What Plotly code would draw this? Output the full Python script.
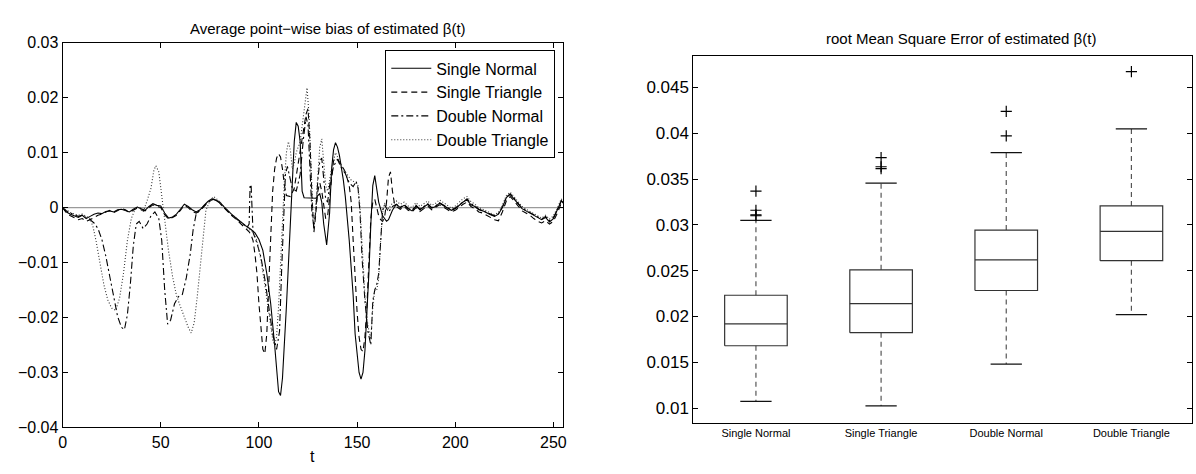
import plotly.graph_objects as go

# ---------------- Left panel: average point-wise bias ----------------
sn_t = [0,2,4,6,8,10,12,14,16,18,20,22,24,26,28,30,32,34,36,38,40,42,44,46,48,50,52,54,56,58,60,62,64,66,68,70,72,74,76,78,80,82,84,86,88,90,92,94,96,98,100,102,104,106,108,110,111,112,114,116,117,118,119,120,121,122,123,126,129,130,131,132,133,134.5,136,137,138,139,140,141,142,143,144,145,146,147,148,149,150,151,152,153,154,155,156,157,158,159,160,161,163,165,166,168,170,172,174,176,178,180,182,184,186,188,190,192,194,196,198,200,202,204,206,208,210,212,214,216,218,220,222,224,226,228,230,232,234,236,238,240,242,244,246,248,250,252,254,255]
sn_v = [0.0,-0.0008,-0.0012,-0.0015,-0.0018,-0.0014,-0.0020,-0.0016,-0.0012,-0.0010,-0.0011,-0.0007,-0.0006,-0.0008,-0.0004,-0.0003,-0.0006,-0.0008,-0.0003,0.0001,-0.0002,-0.0005,0.0002,0.0007,0.0004,0.0003,-0.0010,-0.0019,-0.0017,-0.0012,-0.0003,0.0006,0.0002,-0.0004,-0.0008,-0.0004,0.0004,0.0011,0.0016,0.0013,0.0010,0.0002,-0.0006,-0.0012,-0.0018,-0.0024,-0.0030,-0.0035,-0.0040,-0.0046,-0.0058,-0.0078,-0.0120,-0.0175,-0.0250,-0.0335,-0.0342,-0.0310,-0.0180,-0.0040,0.0030,0.0120,0.0155,0.0148,0.0120,0.0030,0.0018,0.0017,0.0017,0.0022,0.0025,0.0010,-0.0030,-0.0068,-0.0010,0.0070,0.0105,0.0118,0.0110,0.0095,0.0075,0.0050,0.0020,-0.0015,-0.0060,-0.0110,-0.0160,-0.0230,-0.0270,-0.0300,-0.0312,-0.0300,-0.0260,-0.0200,-0.0120,-0.0030,0.0040,0.0058,0.0035,0.0010,-0.0015,-0.0025,-0.0022,-0.0005,0.0006,0.0000,0.0004,-0.0002,-0.0006,0.0003,-0.0004,0.0001,0.0006,-0.0001,0.0002,0.0008,0.0004,0.0000,-0.0005,-0.0002,0.0004,0.0010,0.0014,0.0005,0.0002,-0.0004,-0.0006,-0.0010,-0.0013,-0.0016,-0.0012,0.0000,0.0018,0.0024,0.0015,0.0008,-0.0002,-0.0006,-0.0010,-0.0015,-0.0019,-0.0022,-0.0018,-0.0026,-0.0020,-0.0005,0.0012,0.0008]

st_t = [0,2,4,6,8,10,12,14,16,18,20,22,24,26,28,30,32,34,36,38,40,42,44,46,48,50,52,54,56,58,60,62,64,66,68,70,72,74,76,78,80,82,84,86,88,90,92,94,95,96,97,98,99,100,101,102,103,104,105,106,107,108,109,110,111,112,113,114,116,118,120,122,124,125,126,127,128,129,130,131,132,133,134,135,136,137,138,139,140,142,144,146,147,148,149,150,151,152,153,154,155,156,157,158,159,160,161,162,163,164,165,166,167,168,169,170,172,174,176,178,180,182,184,186,188,190,192,194,196,198,200,202,204,206,208,210,212,214,216,218,220,222,224,226,228,230,232,234,236,238,240,242,244,246,248,250,252,254,255]
st_v = [0.0,-0.0010,-0.0015,-0.0018,-0.0022,-0.0020,-0.0025,-0.0022,-0.0018,-0.0014,-0.0012,-0.0009,-0.0005,-0.0009,-0.0006,-0.0002,-0.0004,-0.0009,-0.0005,-0.0001,-0.0004,-0.0006,0.0000,0.0005,0.0002,0.0000,-0.0013,-0.0021,-0.0018,-0.0014,-0.0005,0.0004,0.0000,-0.0007,-0.0010,-0.0006,0.0002,0.0009,0.0014,0.0016,0.0008,0.0000,-0.0008,-0.0014,-0.0020,-0.0027,-0.0033,-0.0040,-0.0044,-0.0050,-0.0060,-0.0085,-0.0120,-0.0175,-0.0225,-0.0258,-0.0266,-0.0230,-0.0140,-0.0040,0.0030,0.0070,0.0090,0.0098,0.0092,0.0070,0.0040,0.0022,0.0020,0.0035,0.0080,0.0120,0.0170,0.0180,0.0120,0.0020,-0.0045,-0.0010,0.0030,0.0045,0.0030,0.0005,-0.0020,-0.0015,0.0020,0.0060,0.0085,0.0090,0.0088,0.0078,0.0065,0.0040,0.0010,-0.0060,-0.0130,-0.0190,-0.0235,-0.0258,-0.0262,-0.0235,-0.0180,-0.0100,-0.0020,0.0010,0.0015,0.0000,-0.0015,-0.0022,-0.0025,-0.0018,0.0010,0.0055,0.0065,0.0030,0.0008,0.0002,-0.0003,0.0002,-0.0005,-0.0008,0.0000,-0.0007,-0.0002,0.0003,-0.0004,0.0000,0.0005,0.0001,-0.0003,-0.0008,-0.0005,0.0001,0.0006,0.0010,0.0002,-0.0002,-0.0008,-0.0010,-0.0014,-0.0018,-0.0022,-0.0024,-0.0008,0.0012,0.0020,0.0012,0.0004,-0.0006,-0.0010,-0.0014,-0.0020,-0.0025,-0.0028,-0.0024,-0.0030,-0.0025,-0.0010,0.0008,0.0005]

dn_t = [0,2,4,6,8,10,12,14,16,18,20,22,24,26,28,30,31.5,33,34.5,36,37.5,39,41,43,45,47,49,50.5,52,53.5,55,57,59,61,63,65,66.5,68,70,72,74,76,78,80,82,84,86,88,90,92,94,95,95.5,96,96.5,97,99,101,103,105,107,109,110.5,111.5,112.5,113.5,114.5,115.5,117,119,121,122.5,124,125,126,127,128,129,130,131,132,133,134,135,136,138,140,142,144,146,148,149.5,150.5,151.5,152.5,154,155.5,157,158,159,160,161,162,163,164,166,168,170,172,174,176,178,180,182,184,186,188,190,192,194,196,198,200,202,204,206,208,210,212,214,216,218,220,222,224,226,228,230,232,234,236,238,240,242,244,246,248,250,252,254,255]
dn_v = [0.0,-0.0006,-0.0010,-0.0013,-0.0016,-0.0014,-0.0018,-0.0022,-0.0028,-0.0038,-0.0058,-0.0088,-0.0125,-0.0165,-0.0198,-0.0218,-0.0222,-0.0195,-0.0140,-0.0070,-0.0030,-0.0025,-0.0038,-0.0030,-0.0015,-0.0008,-0.0020,-0.0060,-0.0150,-0.0212,-0.0205,-0.0175,-0.0162,-0.0158,-0.0128,-0.0085,-0.0040,-0.0012,-0.0004,0.0003,0.0010,0.0016,0.0014,0.0008,0.0001,-0.0007,-0.0013,-0.0019,-0.0025,-0.0030,-0.0036,-0.0030,0.0040,0.0042,-0.0010,-0.0045,-0.0065,-0.0090,-0.0130,-0.0180,-0.0230,-0.0258,-0.0225,-0.0120,-0.0010,0.0060,0.0075,0.0060,0.0035,0.0030,0.0060,0.0120,0.0165,0.0150,0.0060,-0.0010,-0.0035,-0.0005,0.0050,0.0085,0.0090,0.0045,0.0015,0.0010,0.0040,0.0075,0.0088,0.0072,0.0062,0.0045,0.0038,0.0048,0.0035,-0.0010,-0.0090,-0.0170,-0.0225,-0.0250,-0.0170,-0.0150,-0.0140,-0.0120,-0.0050,-0.0005,0.0005,-0.0008,0.0002,0.0006,0.0001,0.0005,-0.0001,-0.0005,0.0004,-0.0003,0.0002,0.0007,0.0000,0.0003,0.0009,0.0005,0.0001,-0.0004,-0.0001,0.0005,0.0011,0.0016,0.0007,0.0003,-0.0003,-0.0005,-0.0009,-0.0012,-0.0015,-0.0011,0.0001,0.0019,0.0025,0.0017,0.0009,-0.0001,-0.0005,-0.0009,-0.0014,-0.0018,-0.0021,-0.0016,-0.0024,-0.0018,-0.0004,0.0013,0.0009]

dt_t = [0,2,4,6,8,10,12,14,15.5,17,19,21,23,25,27,29,31,33,35,37,39,41,43,45,46.5,47.5,49,50.5,52,54,56,58,60,62,64,65.5,67,68.5,70,71.5,73,75,77,79,81,83,85,87,89,91,93,95,97,99,101,103,105,107,108,109,110,111,112,113,114,115,116,117,118,119,121,123,124.5,125.5,126.5,127.5,128.5,129.5,131,132,133,134,135,137,139,141,143,145,147,149,150.5,151.5,152.5,154,155.5,157,158,159,160,161,162,163,164,166,168,170,172,174,176,178,180,182,184,186,188,190,192,194,196,198,200,202,204,206,208,210,212,214,216,218,220,222,224,226,228,230,232,234,236,238,240,242,244,246,248,250,252,254,255]
dt_v = [0.0,-0.0005,-0.0009,-0.0012,-0.0014,-0.0012,-0.0016,-0.0020,-0.0035,-0.0060,-0.0100,-0.0140,-0.0168,-0.0183,-0.0187,-0.0165,-0.0120,-0.0060,-0.0020,-0.0002,0.0002,-0.0008,0.0012,0.0035,0.0068,0.0076,0.0065,0.0020,-0.0030,-0.0080,-0.0125,-0.0160,-0.0180,-0.0200,-0.0218,-0.0228,-0.0210,-0.0165,-0.0110,-0.0050,-0.0005,0.0012,0.0020,0.0014,0.0006,-0.0003,-0.0009,-0.0015,-0.0021,-0.0027,-0.0032,-0.0038,-0.0045,-0.0060,-0.0095,-0.0140,-0.0195,-0.0240,-0.0252,-0.0235,-0.0180,-0.0100,-0.0020,0.0050,0.0100,0.0120,0.0105,0.0070,0.0080,0.0100,0.0120,0.0180,0.0218,0.0170,0.0060,-0.0010,-0.0020,0.0040,0.0110,0.0125,0.0085,0.0040,0.0030,0.0070,0.0100,0.0085,0.0070,0.0060,0.0050,0.0046,0.0040,0.0000,-0.0070,-0.0160,-0.0215,-0.0240,-0.0180,-0.0150,-0.0150,-0.0130,-0.0060,-0.0010,0.0008,-0.0002,0.0008,0.0012,0.0006,0.0010,0.0003,0.0000,0.0009,0.0002,0.0007,0.0012,0.0004,0.0008,0.0014,0.0009,0.0004,-0.0001,0.0003,0.0010,0.0016,0.0020,0.0011,0.0006,0.0000,-0.0003,-0.0007,-0.0010,-0.0013,-0.0009,0.0004,0.0022,0.0028,0.0020,0.0012,0.0002,-0.0003,-0.0007,-0.0012,-0.0016,-0.0019,-0.0014,-0.0021,-0.0015,-0.0001,0.0016,0.0012]

series_names = ["Single Normal", "Single Triangle", "Double Normal", "Double Triangle"]
left_x_ticks = [0, 50, 100, 150, 200, 250]
left_y_ticks = [-0.04, -0.03, -0.02, -0.01, 0, 0.01, 0.02, 0.03]

# ---------------- Right panel: RMSE boxplot ----------------
categories = ["Single Normal", "Single Triangle", "Double Normal", "Double Triangle"]
lower_whisker = [0.01074, 0.01024, 0.01481, 0.02020]
q1 = [0.01681, 0.01824, 0.02284, 0.02610]
median = [0.01919, 0.02140, 0.02618, 0.02930]
q3 = [0.02232, 0.02510, 0.02944, 0.03207]
upper_whisker = [0.03049, 0.03456, 0.03790, 0.04049]
outliers = [[0.0337, 0.0316, 0.0311, 0.0310],
            [0.03734, 0.03635, 0.03614],
            [0.04239, 0.03972],
            [0.04674]]
right_y_ticks = [0.01, 0.015, 0.02, 0.025, 0.03, 0.035, 0.04, 0.045]
right_y_text = ["0.01", "0.015", "0.02", "0.025", "0.03", "0.035", "0.04", "0.045"]

FONT = "Liberation Sans, Arial, Helvetica, sans-serif"
W, H = 1196, 474

def px_x(p):
    return p / W

def px_y(p):
    return 1 - p / H

fig = go.Figure()

styles = [dict(dash="solid", width=1.1, color="black"),
          dict(dash="6px,4px", width=1.1, color="black"),
          dict(dash="7px,3px,2px,3px", width=1.1, color="black"),
          dict(dash="1px,2px", width=1.1, color="#333")]
data_sets = [(sn_t, sn_v), (st_t, st_v), (dn_t, dn_v), (dt_t, dt_v)]
for name, (tt, vv), st in zip(series_names, data_sets, styles):
    fig.add_trace(go.Scatter(x=tt, y=vv, mode="lines", name=name, line=st,
                             xaxis="x", yaxis="y", showlegend=True))

# boxes built from the statistics
BW = 0.25
CW = 0.125
box_x, box_y, med_x, med_y, wh_x, wh_y, cap_x, cap_y = [], [], [], [], [], [], [], []
for i in range(len(categories)):
    c = i + 1
    box_x += [c - BW, c + BW, c + BW, c - BW, c - BW, None]
    box_y += [q1[i], q1[i], q3[i], q3[i], q1[i], None]
    med_x += [c - BW, c + BW, None]
    med_y += [median[i], median[i], None]
    wh_x += [c, c, None, c, c, None]
    wh_y += [q3[i], upper_whisker[i], None, q1[i], lower_whisker[i], None]
    cap_x += [c - CW, c + CW, None, c - CW, c + CW, None]
    cap_y += [upper_whisker[i], upper_whisker[i], None, lower_whisker[i], lower_whisker[i], None]

fig.add_trace(go.Scatter(x=wh_x, y=wh_y, mode="lines", line=dict(color="#555", width=1.2, dash="5px,4px"),
                         xaxis="x2", yaxis="y2", showlegend=False))
fig.add_trace(go.Scatter(x=box_x, y=box_y, mode="lines", line=dict(color="#333", width=1.2),
                         xaxis="x2", yaxis="y2", showlegend=False))
fig.add_trace(go.Scatter(x=med_x, y=med_y, mode="lines", line=dict(color="#333", width=1.2),
                         xaxis="x2", yaxis="y2", showlegend=False))
fig.add_trace(go.Scatter(x=cap_x, y=cap_y, mode="lines", line=dict(color="#111", width=1.2),
                         xaxis="x2", yaxis="y2", showlegend=False))
ox, oy = [], []
for i, vals in enumerate(outliers):
    for v in vals:
        ox.append(i + 1)
        oy.append(v)
fig.add_trace(go.Scatter(x=ox, y=oy, mode="markers",
                         marker=dict(symbol="cross-thin", size=8, color="black",
                                     line=dict(color="black", width=1.2)),
                         xaxis="x2", yaxis="y2", showlegend=False))

axis_common = dict(showline=True, linecolor="black", linewidth=1, mirror="ticks",
                   ticks="inside", ticklen=5, tickcolor="black", showgrid=False,
                   zeroline=False, tickfont=dict(family=FONT, size=16, color="black"))

fig.update_layout(
    width=W, height=H,
    margin=dict(l=0, r=0, t=0, b=0),
    paper_bgcolor="white", plot_bgcolor="white",
    font=dict(family=FONT, color="black"),
    xaxis=dict(domain=[px_x(59), px_x(563)], range=[0, 255], tickvals=left_x_ticks,
               anchor="y", **axis_common),
    yaxis=dict(domain=[px_y(435), px_y(36)], range=[-0.04, 0.03], tickvals=left_y_ticks,
               anchor="x", **axis_common),
    xaxis2=dict(domain=[px_x(694), 1.0], range=[0.5, 0.5 + (1196 - 694) / 126.0],
                tickvals=[1, 2, 3, 4], ticktext=categories, anchor="y2",
                **{**axis_common, "tickfont": dict(family=FONT, size=11, color="black"), "ticks": ""}),
    yaxis2=dict(domain=[px_y(430), px_y(50)], range=[0.00842, 0.04842], tickvals=right_y_ticks,
                ticktext=right_y_text, anchor="x2",
                **{**axis_common, "tickfont": dict(family=FONT, size=17, color="black")}),
    legend=dict(x=px_x(555), y=px_y(44), xanchor="right", yanchor="top",
                bgcolor="white", bordercolor="black", borderwidth=1,
                font=dict(family=FONT, size=16, color="black"), tracegroupgap=0,
                itemwidth=40),
    shapes=[dict(type="line", xref="x", yref="y", x0=0, x1=255, y0=0, y1=0,
                 line=dict(color="#9a9a9a", width=1.3), layer="below")],
    annotations=[
        dict(text="Average point\u2212wise bias of estimated \u03b2(t)", xref="paper", yref="paper",
             x=px_x(326), y=px_y(21), xanchor="center", yanchor="middle", showarrow=False,
             font=dict(family=FONT, size=15, color="black")),
        dict(text="root Mean Square Error of estimated \u03b2(t)", xref="paper", yref="paper",
             x=px_x(963), y=px_y(32), xanchor="center", yanchor="middle", showarrow=False,
             font=dict(family=FONT, size=15, color="black")),
        dict(text="t", xref="paper", yref="paper", x=px_x(311), y=px_y(465),
             xanchor="center", yanchor="middle", showarrow=False,
             font=dict(family=FONT, size=16, color="black")),
    ],
)

fig.write_html("out.html")
